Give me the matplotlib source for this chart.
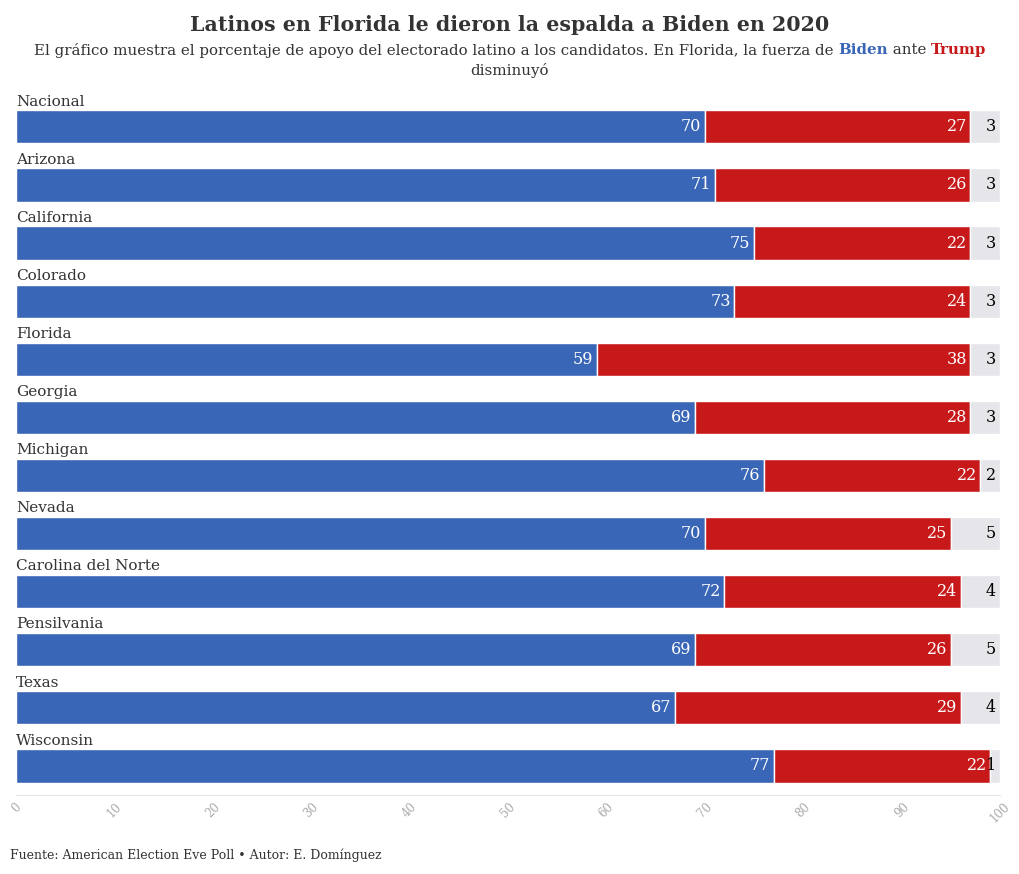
import matplotlib.pyplot as plt

plt.rcParams['font.family'] = ['DejaVu Serif']

estados = ["Nacional", "Arizona", "California", "Colorado", "Florida", "Georgia",
           "Michigan", "Nevada", "Carolina del Norte", "Pensilvania", "Texas", "Wisconsin"]
biden = [70, 71, 75, 73, 59, 69, 76, 70, 72, 69, 67, 77]
trump = [27, 26, 22, 24, 38, 28, 22, 25, 24, 26, 29, 22]
otros = [3, 3, 3, 3, 3, 3, 2, 5, 4, 5, 4, 1]
ticks = list(range(0, 101, 10))

azul = "#3a66b7"
rojo = "#c8191a"
gris = "#e6e6ea"

W, H = 1020, 874
fig = plt.figure(figsize=(W / 100, H / 100), dpi=100)
ax = fig.add_axes([16 / W, 1 - 795 / H, (1000 - 16) / W, (795 - 92) / H])

y = list(range(len(estados)))
h = 0.57
ax.barh(y, biden, height=h, color=azul, edgecolor="white", linewidth=1)
ax.barh(y, trump, left=biden, height=h, color=rojo, edgecolor="white", linewidth=1)
left2 = [b + t for b, t in zip(biden, trump)]
ax.barh(y, otros, left=left2, height=h, color=gris, edgecolor="white", linewidth=1)

for i in y:
    ax.text(biden[i] - 0.35, i, str(biden[i]), color="white", ha="right", va="center", fontsize=11.5)
    ax.text(left2[i] - 0.35, i, str(trump[i]), color="white", ha="right", va="center", fontsize=11.5)
    ax.text(99.6, i, str(otros[i]), color="black", ha="right", va="center", fontsize=11.5)
    ax.text(0, i - h / 2 - 0.03, estados[i], color="#333333", ha="left", va="bottom", fontsize=11)

ax.set_xlim(0, 100)
ax.set_ylim(11.5, -0.6)
ax.set_yticks([])
ax.set_xticks(ticks)
ax.set_xticklabels([str(t) for t in ticks], rotation=45, ha="center", color="#aaaaaa", fontsize=8.5)
ax.tick_params(axis="x", length=0, pad=4)
for s in ["top", "right", "left"]:
    ax.spines[s].set_visible(False)
ax.spines["bottom"].set_color("#e6e6e6")

fig.text(0.5, 1 - 25 / H, "Latinos en Florida le dieron la espalda a Biden en 2020",
         ha="center", va="center", fontsize=14.8, fontweight="bold", color="#333333")

# subtitulo con palabras de color
partes = [("El gráfico muestra el porcentaje de apoyo del electorado latino a los candidatos. En Florida, la fuerza de ", "#333333", "normal"),
          ("Biden", azul, "bold"), (" ante ", "#333333", "normal"), ("Trump", rojo, "bold")]
r = fig.canvas.get_renderer()
objs = []
for txt, col, fw in partes:
    t = fig.text(0, 1 - 50 / H, txt, ha="left", va="center", fontsize=10.8, color=col, fontweight=fw)
    objs.append(t)
anchos = [o.get_window_extent(r).width for o in objs]
x0 = (W - sum(anchos)) / 2
for o, a in zip(objs, anchos):
    o.set_x(x0 / W)
    x0 += a
fig.text(0.5, 1 - 70 / H, "disminuyó", ha="center", va="center", fontsize=10.8, color="#333333")

fig.text(10 / W, 1 - 855 / H, "Fuente: American Election Eve Poll • Autor: E. Domínguez",
         ha="left", va="center", fontsize=9, color="#333333")

fig.savefig("out.png", dpi=100)
